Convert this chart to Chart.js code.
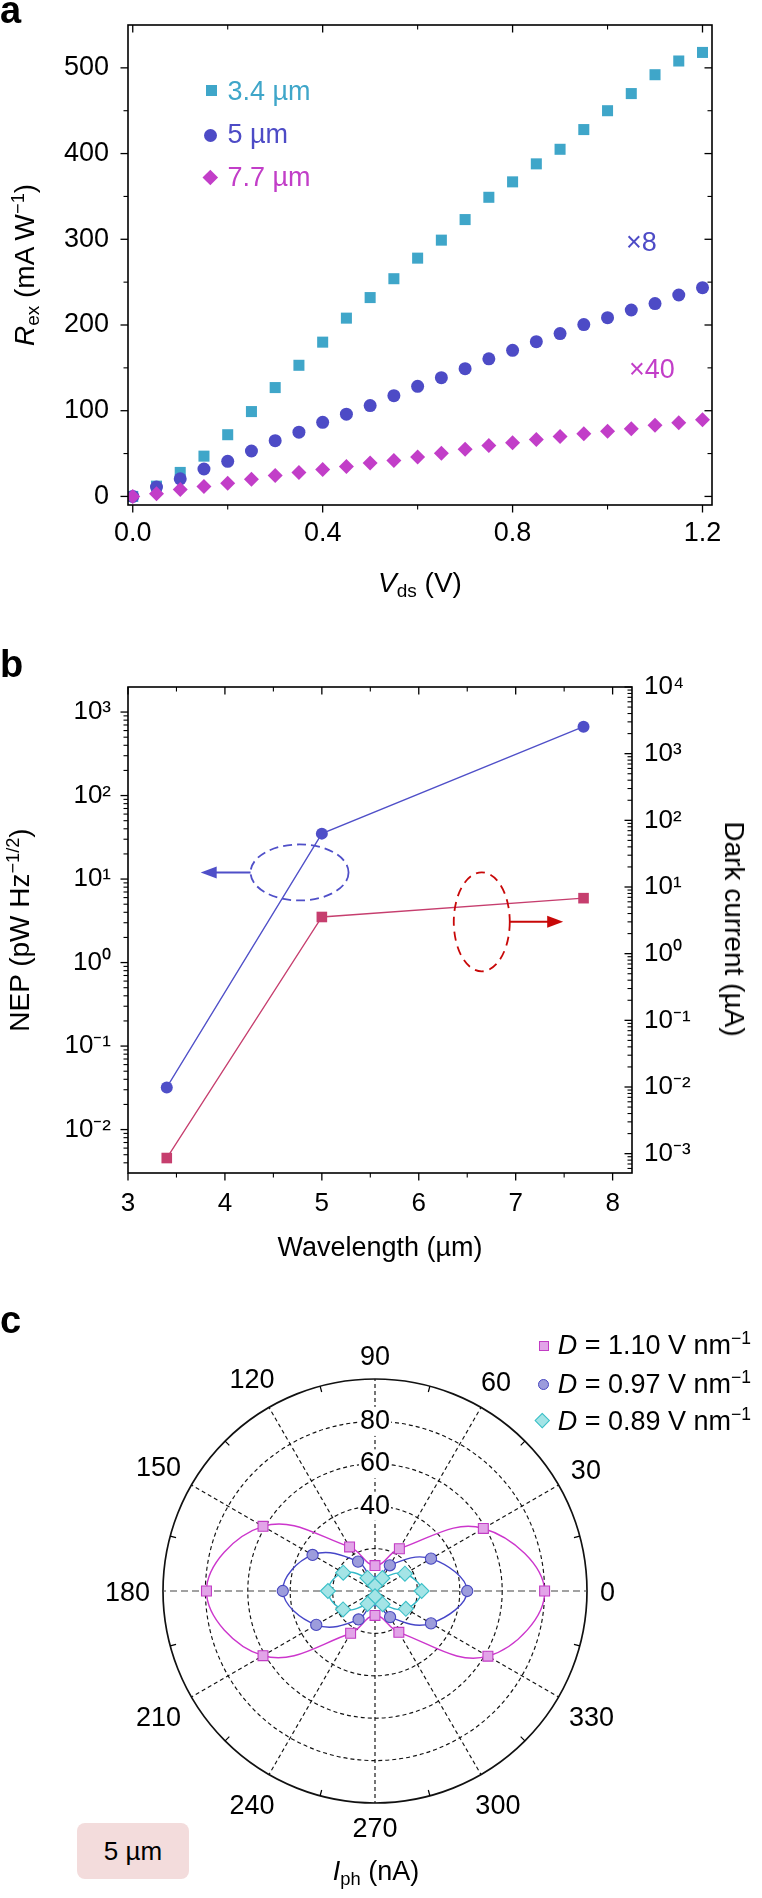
<!DOCTYPE html>
<html><head><meta charset="utf-8">
<script src="https://cdn.jsdelivr.net/npm/chart.js@4.4.1/dist/chart.umd.min.js"></script>
<style>
html,body{margin:0;padding:0;background:#fff}
body{width:762px;height:1898px;position:relative;overflow:hidden;font-family:'Liberation Sans',Arial,Helvetica,sans-serif;color:#000}
canvas{position:absolute;left:0}
.t{position:absolute;white-space:nowrap;line-height:1}
.t sub{font-size:0.68em;vertical-align:-0.28em;line-height:0}
.t sup{font-size:0.65em;vertical-align:0.55em;line-height:0}
.mk{position:absolute;box-sizing:border-box}
</style></head><body>
<canvas id="ca" width="762" height="620" style="top:0"></canvas>
<canvas id="cb" width="762" height="630" style="top:630px"></canvas>
<canvas id="cc" width="762" height="608" style="top:1290px"></canvas>
<script>
// ---------- DATA ----------
// Panel a
const vds = [0, 0.05, 0.1, 0.15, 0.2, 0.25, 0.3, 0.35, 0.4, 0.45, 0.5, 0.55, 0.6, 0.65, 0.7, 0.75, 0.8, 0.85, 0.9, 0.95, 1.0, 1.05, 1.1, 1.15, 1.2];
const resp34 = [0, 12, 28, 47, 72, 99, 127, 153, 180, 208, 232, 254, 278, 299, 323, 349, 367, 388, 405, 428, 450, 470, 492, 508, 518];
const resp5 = [0, 11, 20.5, 32, 41, 53, 65, 75, 86.5, 96, 106, 117.5, 128.5, 138.5, 149, 160.5, 170.5, 180.5, 190, 200.5, 208.5, 217.5, 225, 235, 243.5];
const resp77 = [0, 3, 8, 11.5, 15.5, 20, 24.5, 28, 31.5, 35, 39, 42, 46, 50.5, 55, 59.5, 62.5, 66.5, 70, 73, 76, 79, 83, 86, 89.5];
const vdsTicks = [0, 0.4, 0.8, 1.2];
const respTicks = [0, 100, 200, 300, 400, 500];
// Panel b
const wavelength = [3.4, 5, 7.7];
const nep = [0.032, 35, 668];
const darkCurrent = [0.00086, 3.55, 6.8];
const wlTicks = [3, 4, 5, 6, 7, 8];
const nepTickExp = [-2, -1, 0, 1, 2, 3];
const darkTickExp = [-3, -2, -1, 0, 1, 2, 3, 4];
// Panel c
const polarAngles = [0, 30, 60, 90, 120, 150, 180, 210, 240, 270, 300, 330];
const iph110 = [80, 59, 23, 12, 24, 61, 79.5, 61, 23, 11.5, 22.5, 61.5];
const iph097 = [43.5, 30.5, 14, 4.3, 16, 34, 43.5, 32, 15.5, 4.4, 14.2, 30.5];
const iph089 = [22, 16.3, 7, 2.5, 7.1, 17.3, 22.2, 17.4, 7, 2.5, 7.2, 16.8];
const polarRings = [0, 20, 40, 60, 80, 100];
const polarRingLabels = [40, 60, 80];

// ---------- STYLE ----------
const FONT = "'Liberation Sans', Arial, Helvetica, sans-serif";
Chart.defaults.font.family = FONT;
Chart.defaults.color = '#000';
const C34 = '#3fa6c9', C5 = '#4d4bc6', C77 = '#c23ec8';
const CB = '#4f4fc8', CR = '#c63e6e', CRD = '#c80808';

// ---------- HELPERS ----------
function addText(html, o) {
  const d = document.createElement('div');
  d.className = 't';
  d.innerHTML = html;
  d.style.fontSize = o.size + 'px';
  if (o.color) d.style.color = o.color;
  if (o.bold) d.style.fontWeight = 'bold';
  if (o.rotate) {
    d.style.left = o.x + 'px'; d.style.top = o.y + 'px';
    d.style.transform = 'translate(-50%,-50%) rotate(' + o.rotate + 'deg)';
  } else {
    d.style.top = (o.baseline - 0.8465 * o.size) + 'px';
    d.style.left = o.x + 'px';
    if (o.align === 'center') d.style.transform = 'translateX(-50%)';
  }
  document.body.appendChild(d);
  return d;
}
function addMarker(shape, cx, cy, size, fill, border) {
  const m = document.createElement('div');
  m.className = 'mk';
  m.style.width = size + 'px'; m.style.height = size + 'px';
  m.style.left = (cx - size / 2) + 'px'; m.style.top = (cy - size / 2) + 'px';
  m.style.background = fill;
  if (border) m.style.border = '1.2px solid ' + border;
  if (shape === 'circle') m.style.borderRadius = '50%';
  if (shape === 'diamond') m.style.transform = 'rotate(45deg)';
  document.body.appendChild(m);
}
const SUP = {'-': '⁻', '0': '⁰', '1': '¹', '2': '²', '3': '³', '4': '⁴', '5': '⁵', '6': '⁶', '7': '⁷', '8': '⁸', '9': '⁹'};
const pow10Label = v => '10' + String(Math.round(Math.log10(v))).split('').map(c => SUP[c]).join('');
const mids = arr => arr.slice(1).map((v, i) => (v + arr[i]) / 2);
function logMinors(min, max) {
  const out = [];
  for (let e = Math.floor(Math.log10(min)); e <= Math.ceil(Math.log10(max)); e++)
    for (let m = 2; m <= 9; m++) { const v = m * Math.pow(10, e); if (v > min && v < max) out.push(v); }
  return out;
}
const setTicks = list => s => { s.ticks = list.map(v => ({value: v})); };
// fix an axis box size and drop the label overhang padding so the plot frame lands where wanted
const fitBox = (w, h) => s => {
  if (w != null) s.width = w;
  if (h != null) s.height = h;
  s.paddingTop = 0; s.paddingBottom = 0; s.paddingLeft = 0; s.paddingRight = 0;
};

// frame + inward/outward tick marks drawn from the chart's own scales
const frameTicks = {
  id: 'frameTicks',
  afterDraw(chart, args, opts) {
    const {ctx, chartArea: ca} = chart;
    ctx.save();
    ctx.strokeStyle = '#000';
    (opts.sides || []).forEach(sd => {
      const sc = chart.scales[sd.axis];
      const sign = sd.dir === 'out' ? 1 : -1;
      const draw = (v, len) => {
        const p = sc.getPixelForValue(v);
        ctx.beginPath();
        if (sd.side === 'left') { ctx.moveTo(ca.left, p); ctx.lineTo(ca.left - sign * len, p); }
        if (sd.side === 'right') { ctx.moveTo(ca.right, p); ctx.lineTo(ca.right + sign * len, p); }
        if (sd.side === 'bottom') { ctx.moveTo(p, ca.bottom); ctx.lineTo(p, ca.bottom + sign * len); }
        if (sd.side === 'top') { ctx.moveTo(p, ca.top); ctx.lineTo(p, ca.top - sign * len); }
        ctx.stroke();
      };
      ctx.lineWidth = 1.3;
      sd.major.forEach(v => draw(v, 7.5));
      ctx.lineWidth = 1.1;
      sd.minor.forEach(v => draw(v, 4.5));
    });
    ctx.lineWidth = 1.6;
    ctx.strokeRect(ca.left, ca.top, ca.right - ca.left, ca.bottom - ca.top);
    ctx.restore();
  }
};

// ---------- PANEL A ----------
const linAxis = (extra) => Object.assign({
  type: 'linear',
  grid: {display: false, drawTicks: false},
  border: {display: false},
}, extra);
new Chart(document.getElementById('ca'), {
  type: 'scatter',
  data: {datasets: [
    {label: '7.7 µm', data: vds.map((x, i) => ({x, y: resp77[i]})), pointStyle: 'rectRot', pointRadius: 7.5, backgroundColor: C77, borderWidth: 0, pointBorderWidth: 0, order: 0},
    {label: '5 µm', data: vds.map((x, i) => ({x, y: resp5[i]})), pointStyle: 'circle', pointRadius: 6.5, backgroundColor: C5, borderWidth: 0, pointBorderWidth: 0, order: 1},
    {label: '3.4 µm', data: vds.map((x, i) => ({x, y: resp34[i]})), pointStyle: 'rect', pointRadius: 7.8, backgroundColor: C34, borderWidth: 0, pointBorderWidth: 0, order: 2}
  ]},
  options: {
    responsive: false, animation: false, events: [],
    layout: {padding: {top: 25, right: 50, left: 0, bottom: 0}},
    plugins: {legend: {display: false}, tooltip: {enabled: false},
      frameTicks: {sides: [
        {side: 'left', axis: 'y', dir: 'out', major: respTicks, minor: mids(respTicks)},
        {side: 'right', axis: 'y', dir: 'in', major: respTicks, minor: mids(respTicks)},
        {side: 'bottom', axis: 'x', dir: 'out', major: vdsTicks, minor: mids(vdsTicks)},
        {side: 'top', axis: 'x', dir: 'in', major: vdsTicks, minor: mids(vdsTicks)}
      ]}},
    scales: {
      x: linAxis({min: -0.01, max: 1.22, afterBuildTicks: setTicks(vdsTicks), afterFit: fitBox(null, 115),
        ticks: {font: {size: 27}, color: '#000', padding: 12, autoSkip: false, maxRotation: 0, callback: v => v.toFixed(1)}}),
      y: linAxis({min: -10, max: 550, afterBuildTicks: setTicks(respTicks), afterFit: fitBox(128, null),
        ticks: {font: {size: 27}, color: '#000', padding: 19, autoSkip: false, callback: v => String(v)}})
    }
  },
  plugins: [frameTicks]
});

// ---------- PANEL B ----------
const nepMin = Math.pow(10, -2.52), nepMax = Math.pow(10, 3.3);
const darkMin = Math.pow(10, -3.29), darkMax = Math.pow(10, 4);
const nepTicks = nepTickExp.map(e => Math.pow(10, e));
const darkTicks = darkTickExp.map(e => Math.pow(10, e));
const annotB = {
  blueEllipse: {x: 4.77, y: 12, rx: 49, ry: 28, arrowTo: 3.75},
  redEllipse: {x: 6.65, y: 3.0, rx: 28, ry: 49.5, arrowTo: 7.49}
};
const panelBAnnot = {
  id: 'panelBAnnot',
  afterDatasetsDraw(chart) {
    const {ctx, scales} = chart;
    const arrow = (x0, x1, y, col) => {
      const dirn = Math.sign(x1 - x0);
      ctx.setLineDash([]);
      ctx.strokeStyle = col; ctx.fillStyle = col; ctx.lineWidth = 2;
      ctx.beginPath(); ctx.moveTo(x0, y); ctx.lineTo(x1 - dirn * 12, y); ctx.stroke();
      ctx.beginPath(); ctx.moveTo(x1, y); ctx.lineTo(x1 - dirn * 16, y - 6); ctx.lineTo(x1 - dirn * 16, y + 6); ctx.closePath(); ctx.fill();
    };
    ctx.save();
    const b = annotB.blueEllipse;
    let cx = scales.x.getPixelForValue(b.x), cy = scales.y.getPixelForValue(b.y);
    ctx.strokeStyle = CB; ctx.lineWidth = 1.8; ctx.setLineDash([9, 5]);
    ctx.beginPath(); ctx.ellipse(cx, cy, b.rx, b.ry, 0, 0, Math.PI * 2); ctx.stroke();
    arrow(cx - b.rx, scales.x.getPixelForValue(b.arrowTo), cy, CB);
    const r = annotB.redEllipse;
    cx = scales.x.getPixelForValue(r.x); cy = scales.y2.getPixelForValue(r.y);
    ctx.strokeStyle = CRD; ctx.lineWidth = 1.8; ctx.setLineDash([9, 6]);
    ctx.beginPath(); ctx.ellipse(cx, cy, r.rx, r.ry, 0, 0, Math.PI * 2); ctx.stroke();
    arrow(cx + r.rx, scales.x.getPixelForValue(r.arrowTo), cy, CRD);
    ctx.restore();
  }
};
const logAxis = (extra) => Object.assign({
  type: 'logarithmic',
  grid: {display: false, drawTicks: false},
  border: {display: false},
}, extra);
new Chart(document.getElementById('cb'), {
  type: 'scatter',
  data: {datasets: [
    {data: wavelength.map((x, i) => ({x, y: nep[i]})), yAxisID: 'y', showLine: true, borderColor: CB, backgroundColor: CB, pointStyle: 'circle', pointRadius: 6, borderWidth: 1.3, pointBorderWidth: 0},
    {data: wavelength.map((x, i) => ({x, y: darkCurrent[i]})), yAxisID: 'y2', showLine: true, borderColor: CR, backgroundColor: CR, pointStyle: 'rect', pointRadius: 7.5, borderWidth: 1.3, pointBorderWidth: 0}
  ]},
  options: {
    responsive: false, animation: false, events: [],
    layout: {padding: {top: 57, right: 0, left: 0, bottom: 0}},
    plugins: {legend: {display: false}, tooltip: {enabled: false},
      frameTicks: {sides: [
        {side: 'left', axis: 'y', dir: 'out', major: nepTicks, minor: logMinors(nepMin, nepMax)},
        {side: 'right', axis: 'y2', dir: 'in', major: darkTicks, minor: logMinors(darkMin, darkMax)},
        {side: 'bottom', axis: 'x', dir: 'out', major: wlTicks, minor: mids(wlTicks)},
        {side: 'top', axis: 'x', dir: 'in', major: wlTicks, minor: mids(wlTicks)}
      ]}},
    scales: {
      x: linAxis({min: 3, max: 8.2, afterBuildTicks: setTicks(wlTicks), afterFit: fitBox(null, 87),
        ticks: {font: {size: 26}, color: '#000', padding: 15, autoSkip: false, maxRotation: 0, callback: v => String(v)}}),
      y: logAxis({position: 'left', min: nepMin, max: nepMax, afterBuildTicks: setTicks(nepTicks), afterFit: fitBox(128, null),
        ticks: {font: {size: 26}, color: '#000', padding: 17, autoSkip: false, callback: v => pow10Label(v)}}),
      y2: logAxis({position: 'right', min: darkMin, max: darkMax, afterBuildTicks: setTicks(darkTicks), afterFit: fitBox(130, null),
        ticks: {font: {size: 26}, color: '#000', padding: 12, autoSkip: false, callback: v => pow10Label(v)}})
    }
  },
  plugins: [frameTicks, panelBAnnot]
});

// ---------- PANEL C ----------
const step = 360 / polarAngles.length;
const angleAtIndex = polarAngles.map((_, i) => (((90 - step * i) % 360) + 360) % 360);
const reorder = arr => angleAtIndex.map(a => arr[polarAngles.indexOf(a)]);
const polarDecor = {
  id: 'polarDecor',
  afterDraw(chart) {
    const {ctx} = chart;
    const s = chart.scales.r;
    const R = s.drawingArea, xc = s.xCenter, yc = s.yCenter;
    ctx.save();
    ctx.strokeStyle = '#000'; ctx.lineWidth = 1.2;
    polarAngles.forEach(a => {
      const t = (a + step / 2) * Math.PI / 180;
      ctx.beginPath();
      ctx.moveTo(xc + R * Math.cos(t), yc - R * Math.sin(t));
      ctx.lineTo(xc + (R - 6) * Math.cos(t), yc - (R - 6) * Math.sin(t));
      ctx.stroke();
    });
    ctx.font = '27px ' + FONT; ctx.fillStyle = '#000';
    ctx.textAlign = 'center'; ctx.textBaseline = 'alphabetic';
    chart.data.labels.forEach((lab, i) => {
      const ang = s.getIndexAngle(i) - Math.PI / 2;
      const c = Math.cos(ang), sn = Math.sin(ang);
      const w = ctx.measureText(lab).width;
      const d = R + 13 + Math.abs(c) * w / 2 + Math.abs(sn) * 11;
      ctx.fillText(lab, xc + c * d, yc + sn * d + 0.358 * 27);
    });
    ctx.restore();
  }
};
new Chart(document.getElementById('cc'), {
  type: 'radar',
  data: {
    labels: angleAtIndex.map(String),
    datasets: [
      {label: 'D = 0.89', data: reorder(iph089), borderColor: '#34b9c8', pointBackgroundColor: '#a4e4e6', pointBorderColor: '#3cc0c8', pointStyle: 'rectRot', pointRadius: 7.5, pointBorderWidth: 1.1, borderWidth: 1.4, tension: 0.4, fill: false, order: 0},
      {label: 'D = 0.97', data: reorder(iph097), borderColor: '#4646c8', pointBackgroundColor: '#9c9cdc', pointBorderColor: '#4848c0', pointStyle: 'circle', pointRadius: 5.6, pointBorderWidth: 1.1, borderWidth: 1.4, tension: 0.4, fill: false, order: 1},
      {label: 'D = 1.10', data: reorder(iph110), borderColor: '#cc36cc', pointBackgroundColor: '#e2a4e8', pointBorderColor: '#c23cc4', pointStyle: 'rect', pointRadius: 7, pointBorderWidth: 1.1, borderWidth: 1.4, tension: 0.4, fill: false, order: 2}
    ]
  },
  options: {
    responsive: false, animation: false, events: [],
    layout: {padding: {left: 149, right: 160, top: 75, bottom: 80}},
    plugins: {legend: {display: false}, tooltip: {enabled: false}},
    scales: {
      r: {
        min: 0, max: 100, startAngle: 0,
        afterBuildTicks: setTicks(polarRings),
        ticks: {display: true, font: {size: 27}, color: '#000', backdropColor: '#fff', backdropPadding: 1,
          showLabelBackdrop: c => polarRingLabels.includes(c.tick && c.tick.value),
          callback: v => polarRingLabels.includes(v) ? String(v) : ''},
        grid: {circular: true, color: '#111', lineWidth: c => (c.tick && c.tick.value === 100) ? 1.7 : 1.15},
        border: {dash: c => (c.tick && c.tick.value === 100) ? [] : [4, 3]},
        angleLines: {display: true, color: c => (c.index % 3 === 0 && (c.index / 3) % 2 === 1) ? '#444' : '#111', lineWidth: 1.15,
          borderDash: c => (c.index % 3 === 0 && (c.index / 3) % 2 === 1) ? [7, 4] : [4, 3]},
        pointLabels: {display: false}
      }
    }
  },
  plugins: [polarDecor]
});

// ---------- TEXT ----------
addText('a', {x: 0, baseline: 23, size: 38, bold: true});
addText('b', {x: 0, baseline: 677, size: 38, bold: true});
addText('c', {x: 0, baseline: 1333, size: 38, bold: true});
// panel a
addText('<i>R</i><sub>ex</sub> (mA W<sup>−1</sup>)', {x: 25, y: 265, size: 28, rotate: -90});
addText('<i>V</i><sub>ds</sub> (V)', {x: 420, baseline: 593, size: 28, align: 'center'});
addMarker('square', 211, 90.7, 11, C34);
addMarker('circle', 210.7, 135, 13, C5);
addMarker('diamond', 210, 177.7, 10.6, C77);
addText('3.4 µm', {x: 227.5, baseline: 100.7, size: 27, color: C34});
addText('5 µm', {x: 227.5, baseline: 144, size: 27, color: C5});
addText('7.7 µm', {x: 227.5, baseline: 187.3, size: 27, color: C77});
addText('×8', {x: 626, baseline: 252.3, size: 27, color: C5});
addText('×40', {x: 629, baseline: 379.3, size: 27, color: C77});
// panel b
addText('NEP (pW Hz<sup>−1/2</sup>)', {x: 20, y: 930, size: 28, rotate: -90});
addText('Dark current (µA)', {x: 734, y: 929, size: 28, rotate: 90});
addText('Wavelength (µm)', {x: 380, baseline: 1256.7, size: 27, align: 'center'});
// panel c
addMarker('square', 544.3, 1345.7, 10, '#e2a4e8', '#c23cc4');
addMarker('circle', 543.3, 1384, 11, '#9c9cdc', '#4848c0');
addMarker('diamond', 542.7, 1420.7, 10.5, '#a4e4e6', '#3cc0c8');
addText('<i>D</i> = 1.10 V nm<sup>−1</sup>', {x: 557.7, baseline: 1355.3, size: 27});
addText('<i>D</i> = 0.97 V nm<sup>−1</sup>', {x: 557.7, baseline: 1394, size: 27});
addText('<i>D</i> = 0.89 V nm<sup>−1</sup>', {x: 557.7, baseline: 1431, size: 27});
const box = document.createElement('div');
box.style.cssText = 'position:absolute;left:77px;top:1823px;width:112px;height:56px;background:#f3dcdc;border-radius:8px';
document.body.appendChild(box);
addText('5 µm', {x: 133, baseline: 1860.5, size: 26, align: 'center'});
addText('<i>I</i><sub>ph</sub> (nA)', {x: 376, baseline: 1881, size: 27, align: 'center'});
</script>
</body></html>
